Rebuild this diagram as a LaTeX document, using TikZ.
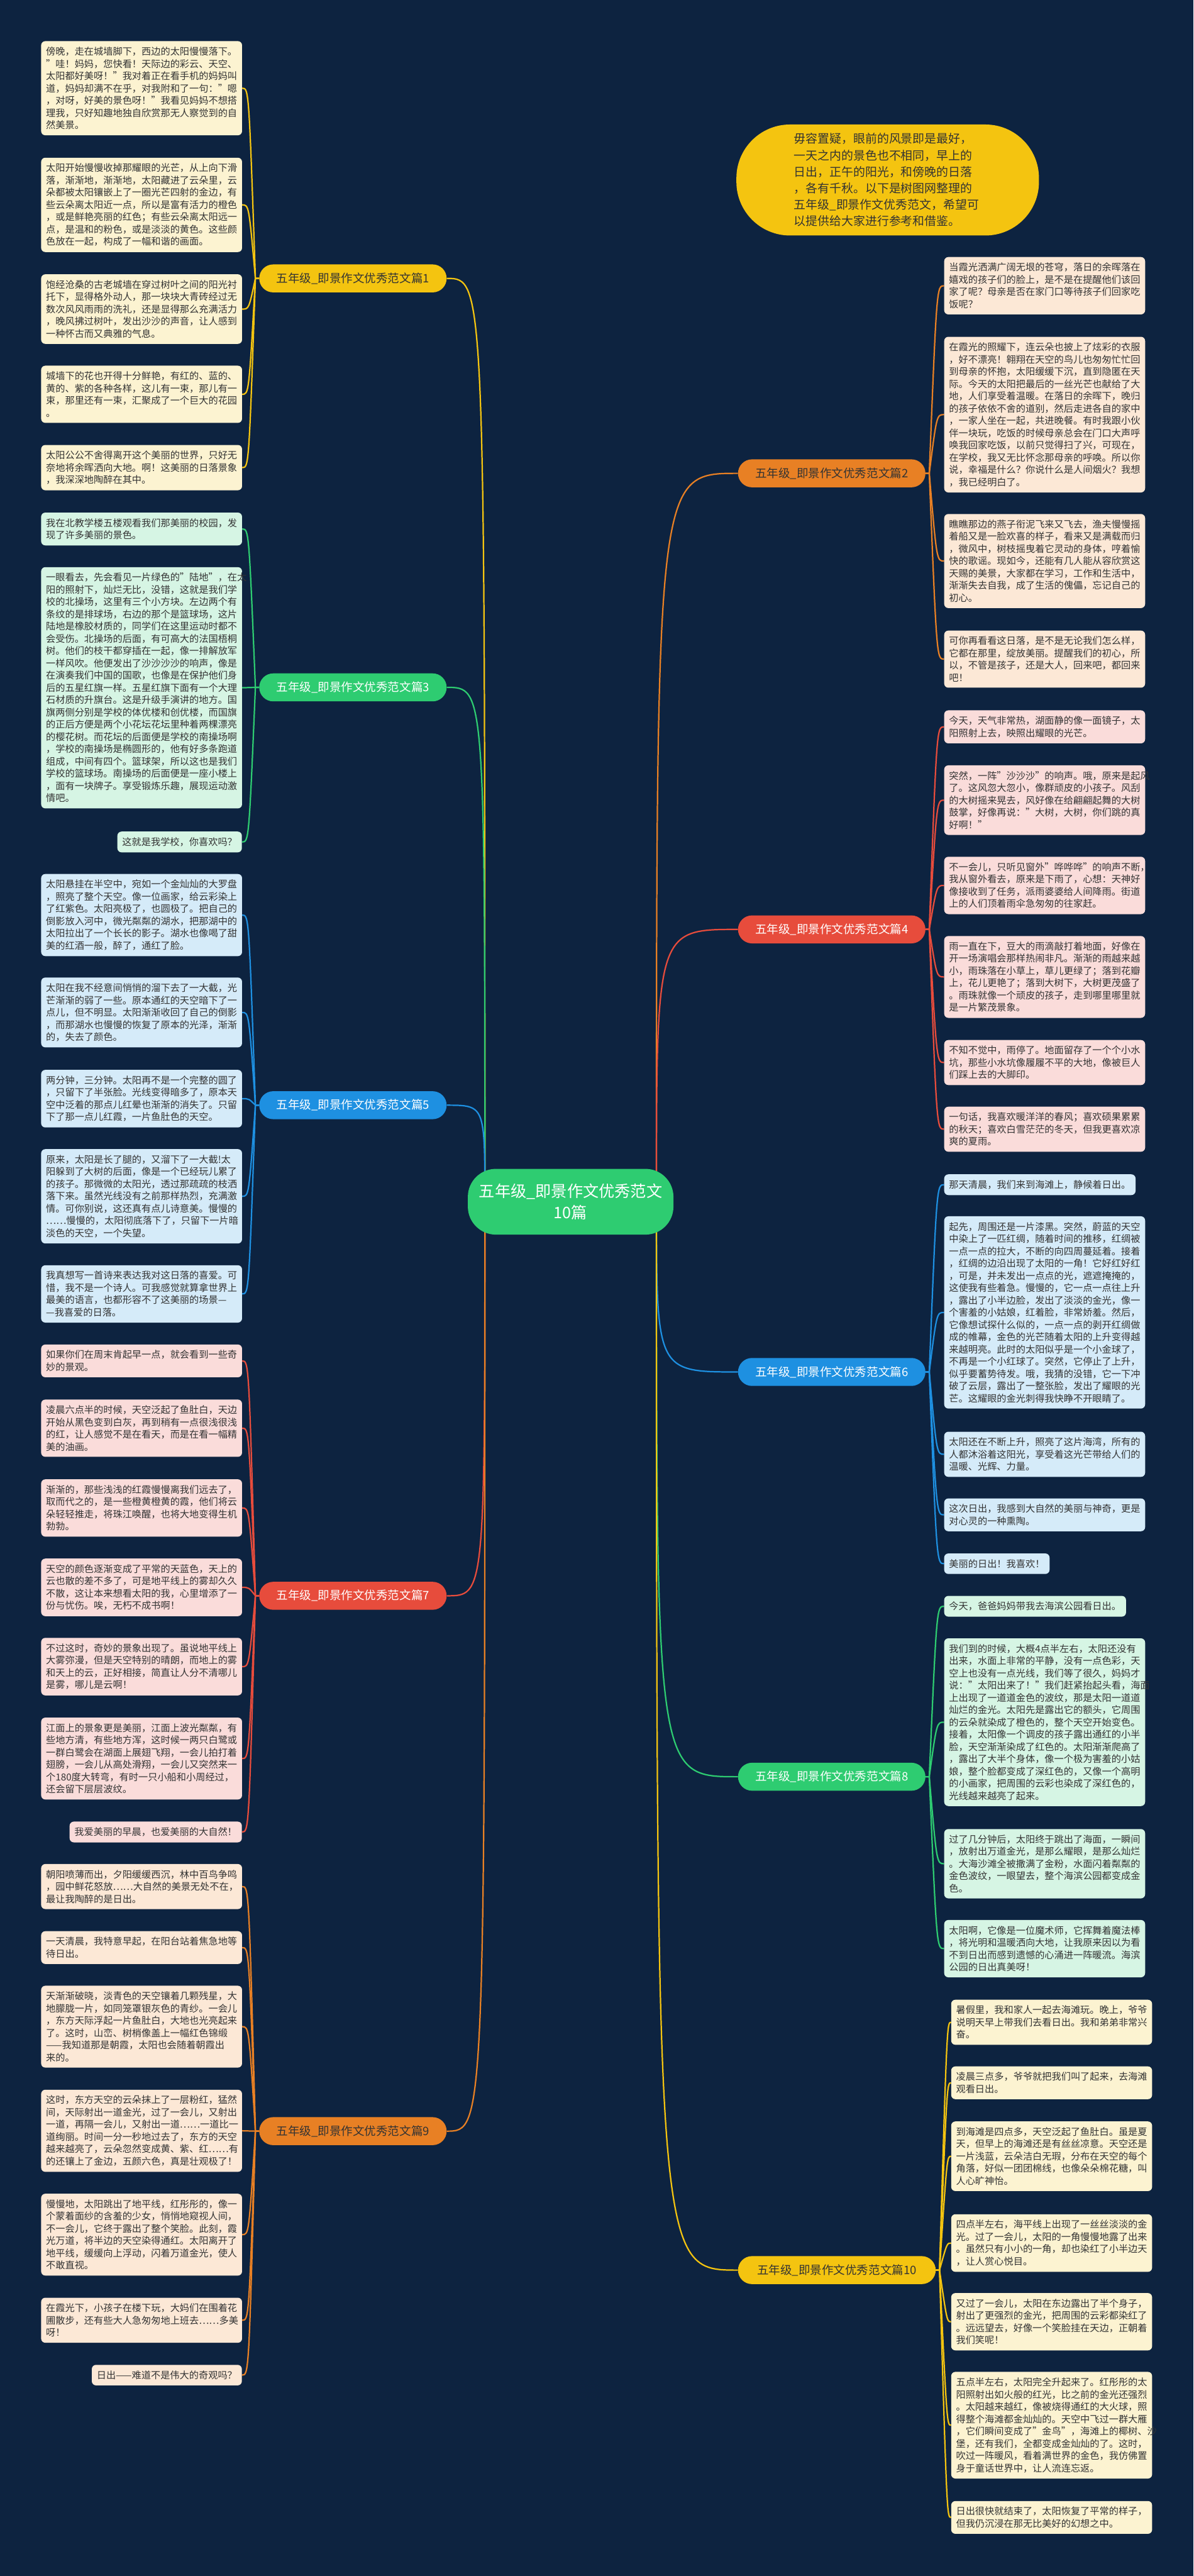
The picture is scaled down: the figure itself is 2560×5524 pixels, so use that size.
\documentclass[tikz,border=0pt]{standalone}
\usepackage{fontspec}
\setmainfont{Noto Sans CJK SC}
\pgfdeclarelayer{back}
\pgfdeclarelayer{links}
\pgfsetlayers{back,links,main}

\definecolor{navy}{RGB}{13,35,64}
\definecolor{ylw}{RGB}{244,196,16}
\definecolor{org}{RGB}{232,128,36}
\definecolor{grn}{RGB}{46,204,113}
\definecolor{rd}{RGB}{231,76,60}
\definecolor{blu}{RGB}{30,144,225}
\definecolor{ylwbox}{RGB}{252,243,209}
\definecolor{orgbox}{RGB}{252,232,214}
\definecolor{grnbox}{RGB}{214,245,228}
\definecolor{rdbox}{RGB}{250,220,218}
\definecolor{blubox}{RGB}{213,235,249}
\definecolor{ink}{RGB}{51,51,51}

\tikzset{
  essay/.style={rounded corners=9pt, inner xsep=10.5pt, inner ysep=12.5pt, text width=410pt, align=left, anchor=north west, text=ink, font=\fontsize{20.5}{26.3}\selectfont},
  note/.style={rounded corners=9pt, inner xsep=10.5pt, inner ysep=12.5pt, text=ink, font=\fontsize{20.5}{26.3}\selectfont},
  branch/.style={rounded corners=30pt, minimum height=60pt, minimum width=402pt, inner sep=0pt, font=\fontsize{25}{30}\selectfont},
  hub/.style={fill=grn, text=white, rounded corners=60pt, minimum width=441pt, minimum height=141pt, align=center, font=\fontsize{34}{46}\selectfont},
  link/.style={line width=3pt},
}

\begin{document}
\begin{tikzpicture}[x=1pt, y=-1pt]
    \useasboundingbox (0,0) rectangle (2560,5524);
    \begin{pgfonlayer}{back}
    \fill[navy] (0,0) rectangle (2560,5524);
    \end{pgfonlayer}

    % Center and intro
    \node[hub] (c) at (1224,2577) {五年级\_即景作文优秀范文\\10篇};
    \node[fill=ylw, text=ink, rounded corners=115pt, minimum width=649pt, minimum height=238pt, text width=402pt, align=left, font=\fontsize{25.5}{35.3}\selectfont] (intro) at (1904,386) {毋容置疑，眼前的风景即是最好，\\
一天之内的景色也不相同，早上的\\
日出，正午的阳光，和傍晚的日落\\
，各有千秋。以下是树图网整理的\\
五年级\_即景作文优秀范文，希望可\\
以提供给大家进行参考和借鉴。};

    % Branch labels
    \node[branch, fill=ylw, text=ink] (l1) at (757,597) {五年级\_即景作文优秀范文篇1};
    \node[branch, fill=org, text=ink] (l2) at (1784,1015) {五年级\_即景作文优秀范文篇2};
    \node[branch, fill=grn, text=white] (l3) at (757,1474) {五年级\_即景作文优秀范文篇3};
    \node[branch, fill=rd, text=white] (l4) at (1784,1993) {五年级\_即景作文优秀范文篇4};
    \node[branch, fill=blu, text=white] (l5) at (757,2370) {五年级\_即景作文优秀范文篇5};
    \node[branch, fill=blu, text=white] (l6) at (1784,2942) {五年级\_即景作文优秀范文篇6};
    \node[branch, fill=rd, text=white] (l7) at (757,3422) {五年级\_即景作文优秀范文篇7};
    \node[branch, fill=grn, text=white] (l8) at (1784,3810) {五年级\_即景作文优秀范文篇8};
    \node[branch, fill=org, text=ink] (l9) at (757,4570) {五年级\_即景作文优秀范文篇9};
    \node[branch, fill=ylw, text=ink, minimum width=424pt] (l10) at (1795,4868) {五年级\_即景作文优秀范文篇10};

    % Essay 1
    \node[essay, fill=ylwbox] (b1a) at (88,88) {傍晚，走在城墙脚下，西边的太阳慢慢落下。\\
"哇！妈妈，您快看！天际边的彩云、天空、\\
太阳都好美呀！"我对着正在看手机的妈妈叫\\
道，妈妈却满不在乎，对我附和了一句："嗯\\
，对呀，好美的景色呀！"我看见妈妈不想搭\\
理我，只好知趣地独自欣赏那无人察觉到的自\\
然美景。};
    \node[essay, fill=ylwbox] (b1b) at (88,338) {太阳开始慢慢收掉那耀眼的光芒，从上向下滑\\
落，渐渐地，渐渐地，太阳藏进了云朵里，云\\
朵都被太阳镶嵌上了一圈光芒四射的金边，有\\
些云朵离太阳近一点，所以是富有活力的橙色\\
，或是鲜艳亮丽的红色；有些云朵离太阳远一\\
点，是温和的粉色，或是淡淡的黄色。这些颜\\
色放在一起，构成了一幅和谐的画面。};
    \node[essay, fill=ylwbox] (b1c) at (88,588) {饱经沧桑的古老城墙在穿过树叶之间的阳光衬\\
托下，显得格外动人，那一块块大青砖经过无\\
数次风风雨雨的洗礼，还是显得那么充满活力\\
，晚风拂过树叶，发出沙沙的声音，让人感到\\
一种怀古而又典雅的气息。};
    \node[essay, fill=ylwbox] (b1d) at (88,784) {城墙下的花也开得十分鲜艳，有红的、蓝的、\\
黄的、紫的各种各样，这儿有一束，那儿有一\\
束，那里还有一束，汇聚成了一个巨大的花园\\
。};
    \node[essay, fill=ylwbox] (b1e) at (88,954) {太阳公公不舍得离开这个美丽的世界，只好无\\
奈地将余晖洒向大地。啊！这美丽的日落景象\\
，我深深地陶醉在其中。};

    % Essay 3
    \node[essay, fill=grnbox] (b3a) at (88,1099) {我在北教学楼五楼观看我们那美丽的校园，发\\
现了许多美丽的景色。};
    \node[essay, fill=grnbox] (b3b) at (88,1216) {一眼看去，先会看见一片绿色的"陆地"，在太\\
阳的照射下，灿烂无比，没错，这就是我们学\\
校的北操场，这里有三个小方块。左边两个有\\
条纹的是排球场，右边的那个是篮球场，这片\\
陆地是橡胶材质的，同学们在这里运动时都不\\
会受伤。北操场的后面，有可高大的法国梧桐\\
树。他们的枝干都穿插在一起，像一排解放军\\
一样风吹。他便发出了沙沙沙沙的响声，像是\\
在演奏我们中国的国歌，也像是在保护他们身\\
后的五星红旗一样。五星红旗下面有一个大理\\
石材质的升旗台。这是升级手演讲的地方。国\\
旗两侧分别是学校的体优楼和创优楼，而国旗\\
的正后方便是两个小花坛花坛里种着两棵漂亮\\
的樱花树。而花坛的后面便是学校的南操场啊\\
，学校的南操场是椭圆形的，他有好多条跑道\\
组成，中间有四个。篮球架，所以这也是我们\\
学校的篮球场。南操场的后面便是一座小楼上\\
，面有一块牌子。享受锻炼乐趣，展现运动激\\
情吧。};
    \node[note, fill=grnbox, anchor=north east] (b3c) at (519,1783) {这就是我学校，你喜欢吗？};

    % Essay 5
    \node[essay, fill=blubox] (b5a) at (88,1874) {太阳悬挂在半空中，宛如一个金灿灿的大罗盘\\
，照亮了整个天空。像一位画家，给云彩染上\\
了红紫色。太阳亮极了，也圆极了。把自己的\\
倒影放入河中，微光粼粼的湖水，把那湖中的\\
太阳拉出了一个长长的影子。湖水也像喝了甜\\
美的红酒一般，醉了，通红了脸。};
    \node[essay, fill=blubox] (b5b) at (88,2096) {太阳在我不经意间悄悄的溜下去了一大截，光\\
芒渐渐的弱了一些。原本通红的天空暗下了一\\
点儿，但不明显。太阳渐渐收回了自己的倒影\\
，而那湖水也慢慢的恢复了原本的光泽，渐渐\\
的，失去了颜色。};
    \node[essay, fill=blubox] (b5c) at (88,2294) {两分钟，三分钟。太阳再不是一个完整的圆了\\
，只留下了半张脸。光线变得暗多了，原本天\\
空中泛着的那点儿红晕也渐渐的消失了。只留\\
下了那一点儿红霞，一片鱼肚色的天空。};
    \node[essay, fill=blubox] (b5d) at (88,2464) {原来，太阳是长了腿的，又溜下了一大截!太\\
阳躲到了大树的后面，像是一个已经玩儿累了\\
的孩子。那微微的太阳光，透过那疏疏的枝洒\\
落下来。虽然光线没有之前那样热烈，充满激\\
情。可你别说，这还真有点儿诗意美。慢慢的\\
……慢慢的，太阳彻底落下了，只留下一片暗\\
淡色的天空，一个失望。};
    \node[essay, fill=blubox] (b5e) at (88,2713) {我真想写一首诗来表达我对这日落的喜爱。可\\
惜，我不是一个诗人。可我感觉就算拿世界上\\
最美的语言，也都形容不了这美丽的场景—\\
—我喜爱的日落。};

    % Essay 7
    \node[essay, fill=rdbox] (b7a) at (88,2883) {如果你们在周末肯起早一点，就会看到一些奇\\
妙的景观。};
    \node[essay, fill=rdbox] (b7b) at (88,3001) {凌晨六点半的时候，天空泛起了鱼肚白，天边\\
开始从黑色变到白灰，再到稍有一点很浅很浅\\
的红，让人感觉不是在看天，而是在看一幅精\\
美的油画。};
    \node[essay, fill=rdbox] (b7c) at (88,3172) {渐渐的，那些浅浅的红霞慢慢离我们远去了，\\
取而代之的，是一些橙黄橙黄的霞，他们将云\\
朵轻轻推走，将珠江唤醒，也将大地变得生机\\
勃勃。};
    \node[essay, fill=rdbox] (b7d) at (88,3342) {天空的颜色逐渐变成了平常的天蓝色，天上的\\
云也散的差不多了，可是地平线上的雾却久久\\
不散，这让本来想看太阳的我，心里增添了一\\
份与忧伤。唉，无朽不成书啊！};
    \node[essay, fill=rdbox] (b7e) at (88,3512) {不过这时，奇妙的景象出现了。虽说地平线上\\
大雾弥漫，但是天空特别的晴朗，而地上的雾\\
和天上的云，正好相接，简直让人分不清哪儿\\
是雾，哪儿是云啊！};
    \node[essay, fill=rdbox] (b7f) at (88,3683) {江面上的景象更是美丽，江面上波光粼粼，有\\
些地方清，有些地方浑，这时候一两只白鹭或\\
一群白鹭会在湖面上展翅飞翔，一会儿拍打着\\
翅膀，一会儿从高处滑翔，一会儿又突然来一\\
个180度大转弯，有时一只小船和小周经过，\\
还会留下层层波纹。};
    \node[note, fill=rdbox, anchor=north east] (b7g) at (519,3906) {我爱美丽的早晨，也爱美丽的大自然！};

    % Essay 9
    \node[essay, fill=orgbox] (b9a) at (88,3997) {朝阳喷薄而出，夕阳缓缓西沉，林中百鸟争鸣\\
，园中鲜花怒放……大自然的美景无处不在，\\
最让我陶醉的是日出。};
    \node[essay, fill=orgbox] (b9b) at (88,4141) {一天清晨，我特意早起，在阳台站着焦急地等\\
待日出。};
    \node[essay, fill=orgbox] (b9c) at (88,4258) {天渐渐破晓，淡青色的天空镶着几颗残星，大\\
地朦胧一片，如同笼罩银灰色的青纱。一会儿\\
，东方天际浮起一片鱼肚白，大地也光亮起来\\
了。这时，山峦、树梢像盖上一幅红色锦缎\\
——我知道那是朝霞，太阳也会随着朝霞出\\
来的。};
    \node[essay, fill=orgbox] (b9d) at (88,4481) {这时，东方天空的云朵抹上了一层粉红，猛然\\
间，天际射出一道金光，过了一会儿，又射出\\
一道，再隔一会儿，又射出一道……一道比一\\
道绚丽。时间一分一秒地过去了，东方的天空\\
越来越亮了，云朵忽然变成黄、紫、红……有\\
的还镶上了金边，五颜六色，真是壮观极了！};
    \node[essay, fill=orgbox] (b9e) at (88,4704) {慢慢地，太阳跳出了地平线，红彤彤的，像一\\
个蒙着面纱的含羞的少女，悄悄地窥视人间，\\
不一会儿，它终于露出了整个笑脸。此刻，霞\\
光万道，将半边的天空染得通红。太阳离开了\\
地平线，缓缓向上浮动，闪着万道金光，使人\\
不敢直视。};
    \node[essay, fill=orgbox] (b9f) at (88,4927) {在霞光下，小孩子在楼下玩，大妈们在围着花\\
圃散步，还有些大人急匆匆地上班去……多美\\
呀！};
    \node[note, fill=orgbox, anchor=north east] (b9g) at (519,5071) {日出——难道不是伟大的奇观吗？};

    % Essay 2
    \node[essay, fill=orgbox] (r2a) at (2025,551) {当霞光洒满广阔无垠的苍穹，落日的余晖落在\\
嬉戏的孩子们的脸上，是不是在提醒他们该回\\
家了呢？母亲是否在家门口等待孩子们回家吃\\
饭呢？};
    \node[essay, fill=orgbox] (r2b) at (2025,722) {在霞光的照耀下，连云朵也披上了炫彩的衣服\\
，好不漂亮！翱翔在天空的鸟儿也匆匆忙忙回\\
到母亲的怀抱，太阳缓缓下沉，直到隐匿在天\\
际。今天的太阳把最后的一丝光芒也献给了大\\
地，人们享受着温暖。在落日的余晖下，晚归\\
的孩子依依不舍的道别，然后走进各自的家中\\
，一家人坐在一起，共进晚餐。有时我跟小伙\\
伴一块玩，吃饭的时候母亲总会在门口大声呼\\
唤我回家吃饭，以前只觉得扫了兴，可现在，\\
在学校，我又无比怀念那母亲的呼唤。所以你\\
说，幸福是什么？你说什么是人间烟火？我想\\
，我已经明白了。};
    \node[essay, fill=orgbox] (r2c) at (2025,1102) {瞧瞧那边的燕子衔泥飞来又飞去，渔夫慢慢摇\\
着船又是一脸欢喜的样子，看来又是满载而归\\
，微风中，树枝摇曳着它灵动的身体，哼着愉\\
快的歌谣。现如今，还能有几人能从容欣赏这\\
天赐的美景，大家都在学习，工作和生活中，\\
渐渐失去自我，成了生活的傀儡，忘记自己的\\
初心。};
    \node[essay, fill=orgbox] (r2d) at (2025,1352) {可你再看看这日落，是不是无论我们怎么样，\\
它都在那里，绽放美丽。提醒我们的初心，所\\
以，不管是孩子，还是大人，回来吧，都回来\\
吧！};

    % Essay 4
    \node[essay, fill=rdbox] (r4a) at (2025,1523) {今天，天气非常热，湖面静的像一面镜子，太\\
阳照射上去，映照出耀眼的光芒。};
    \node[essay, fill=rdbox] (r4b) at (2025,1641) {突然，一阵"沙沙沙"的响声。哦，原来是起风\\
了。这风忽大忽小，像群顽皮的小孩子。风刮\\
的大树摇来晃去，风好像在给翩翩起舞的大树\\
鼓掌，好像再说："大树，大树，你们跳的真\\
好啊！"};
    \node[essay, fill=rdbox] (r4c) at (2025,1837) {不一会儿，只听见窗外"哗哗哗"的响声不断，\\
我从窗外看去，原来是下雨了，心想：天神好\\
像接收到了任务，派雨婆婆给人间降雨。街道\\
上的人们顶着雨伞急匆匆的往家赶。};
    \node[essay, fill=rdbox] (r4d) at (2025,2007) {雨一直在下，豆大的雨滴敲打着地面，好像在\\
开一场演唱会那样热闹非凡。渐渐的雨越来越\\
小，雨珠落在小草上，草儿更绿了；落到花瓣\\
上，花儿更艳了；落到大树下，大树更茂盛了\\
。雨珠就像一个顽皮的孩子，走到哪里哪里就\\
是一片繁茂景象。};
    \node[essay, fill=rdbox] (r4e) at (2025,2230) {不知不觉中，雨停了。地面留存了一个个小水\\
坑，那些小水坑像履履不平的大地，像被巨人\\
们踩上去的大脚印。};
    \node[essay, fill=rdbox] (r4f) at (2025,2373) {一句话，我喜欢暖洋洋的春风；喜欢硕果累累\\
的秋天；喜欢白雪茫茫的冬天，但我更喜欢凉\\
爽的夏雨。};

    % Essay 6
    \node[note, fill=blubox, anchor=north west] (r6a) at (2025,2518) {那天清晨，我们来到海滩上，静候着日出。};
    \node[essay, fill=blubox] (r6b) at (2025,2608) {起先，周围还是一片漆黑。突然，蔚蓝的天空\\
中染上了一匹红绸，随着时间的推移，红绸被\\
一点一点的拉大，不断的向四周蔓延着。接着\\
，红绸的边沿出现了太阳的一角！它好红好红\\
，可是，并未发出一点点的光，遮遮掩掩的，\\
这使我有些着急。慢慢的，它一点一点往上升\\
，露出了小半边脸，发出了淡淡的金光，像一\\
个害羞的小姑娘，红着脸，非常娇羞。然后，\\
它像想试探什么似的，一点一点的剥开红绸做\\
成的帷幕，金色的光芒随着太阳的上升变得越\\
来越明亮。此时的太阳似乎是一个小金球了，\\
不再是一个小红球了。突然，它停止了上升，\\
似乎要蓄势待发。哦，我猜的没错，它一下冲\\
破了云层，露出了一整张脸，发出了耀眼的光\\
芒。这耀眼的金光刺得我快睁不开眼睛了。};
    \node[essay, fill=blubox] (r6c) at (2025,3070) {太阳还在不断上升，照亮了这片海湾，所有的\\
人都沐浴着这阳光，享受着这光芒带给人们的\\
温暖、光辉、力量。};
    \node[essay, fill=blubox] (r6d) at (2025,3213) {这次日出，我感到大自然的美丽与神奇，更是\\
对心灵的一种熏陶。};
    \node[note, fill=blubox, anchor=north west] (r6e) at (2025,3331) {美丽的日出！我喜欢！};

    % Essay 8
    \node[note, fill=grnbox, anchor=north west] (r8a) at (2025,3422) {今天，爸爸妈妈带我去海滨公园看日出。};
    \node[essay, fill=grnbox] (r8b) at (2025,3513) {我们到的时候，大概4点半左右，太阳还没有\\
出来，水面上非常的平静，没有一点色彩，天\\
空上也没有一点光线，我们等了很久，妈妈才\\
说："太阳出来了！"我们赶紧抬起头看，海面\\
上出现了一道道金色的波纹，那是太阳一道道\\
灿烂的金光。太阳先是露出它的额头，它周围\\
的云朵就染成了橙色的，整个天空开始变色。\\
接着，太阳像一个调皮的孩子露出通红的小半\\
脸，天空渐渐染成了红色的。太阳渐渐爬高了\\
，露出了大半个身体，像一个极为害羞的小姑\\
娘，整个脸都变成了深红色的，又像一个高明\\
的小画家，把周围的云彩也染成了深红色的，\\
光线越来越亮了起来。};
    \node[essay, fill=grnbox] (r8c) at (2025,3922) {过了几分钟后，太阳终于跳出了海面，一瞬间\\
，放射出万道金光，是那么耀眼，是那么灿烂\\
。大海沙滩全被撒满了金粉，水面闪着粼粼的\\
金色波纹，一眼望去，整个海滨公园都变成金\\
色。};
    \node[essay, fill=grnbox] (r8d) at (2025,4117) {太阳啊，它像是一位魔术师，它挥舞着魔法棒\\
，将光明和温暖洒向大地，让我原来因以为看\\
不到日出而感到遗憾的心涌进一阵暖流。海滨\\
公园的日出真美呀！};

    % Essay 10
    \node[essay, fill=ylwbox] (r10a) at (2040,4288) {暑假里，我和家人一起去海滩玩。晚上，爷爷\\
说明天早上带我们去看日出。我和弟弟非常兴\\
奋。};
    \node[essay, fill=ylwbox] (r10b) at (2040,4431) {凌晨三点多，爷爷就把我们叫了起来，去海滩\\
观看日出。};
    \node[essay, fill=ylwbox] (r10c) at (2040,4549) {到海滩是四点多，天空泛起了鱼肚白。虽是夏\\
天，但早上的海滩还是有丝丝凉意。天空还是\\
一片浅蓝，云朵洁白无瑕，分布在天空的每个\\
角落，好似一团团棉线，也像朵朵棉花糖，叫\\
人心旷神怡。};
    \node[essay, fill=ylwbox] (r10d) at (2040,4748) {四点半左右，海平线上出现了一丝丝淡淡的金\\
光。过了一会儿，太阳的一角慢慢地露了出来\\
。虽然只有小小的一角，却也染红了小半边天\\
，让人赏心悦目。};
    \node[essay, fill=ylwbox] (r10e) at (2040,4917) {又过了一会儿，太阳在东边露出了半个身子，\\
射出了更强烈的金光，把周围的云彩都染红了\\
。远远望去，好像一个笑脸挂在天边，正朝着\\
我们笑呢！};
    \node[essay, fill=ylwbox] (r10f) at (2040,5086) {五点半左右，太阳完全升起来了。红彤彤的太\\
阳照射出如火般的红光，比之前的金光还强烈\\
。太阳越来越红，像被烧得通红的大火球，照\\
得整个海滩都金灿灿的。天空中飞过一群大雁\\
，它们瞬间变成了"金鸟"，海滩上的椰树、沙\\
堡，还有我们，全都变成金灿灿的了。这时，\\
吹过一阵暖风，看着满世界的金色，我仿佛置\\
身于童话世界中，让人流连忘返。};
    \node[essay, fill=ylwbox] (r10g) at (2040,5363) {日出很快就结束了，太阳恢复了平常的样子，\\
但我仍沉浸在那无比美好的幻想之中。};

    % Connectors
    \begin{pgfonlayer}{links}
    \coordinate (cl) at (1040,2577);
    \coordinate (cr) at (1408,2577);
    \foreach \l/\col in {l1/ylw, l3/grn, l5/blu, l7/rd, l9/org}
        \draw[link, color=\col] (cl) .. controls (cl |- \l.east) .. (\l.east);
    \foreach \l/\col in {l2/org, l4/rd, l6/blu, l8/grn, l10/ylw}
        \draw[link, color=\col] (cr) .. controls (cr |- \l.west) .. (\l.west);

    % left branches
    \foreach \l/\col/\boxes in {l1/ylw/{b1a,b1b,b1c,b1d,b1e}, l3/grn/{b3a,b3b,b3c}, l5/blu/{b5a,b5b,b5c,b5d,b5e}, l7/rd/{b7a,b7b,b7c,b7d,b7e,b7f,b7g}, l9/org/{b9a,b9b,b9c,b9d,b9e,b9f,b9g}} {
        \coordinate (s) at ([xshift=-22pt]\l.west);
        \foreach \b in \boxes
            \draw[link, color=\col] (\l.west) -- ++(-8,0) .. controls (s |- \b.east) .. (\b.east);
    }
    % right branches
    \foreach \l/\col/\boxes in {l2/org/{r2a,r2b,r2c,r2d}, l4/rd/{r4a,r4b,r4c,r4d,r4e,r4f}, l6/blu/{r6a,r6b,r6c,r6d,r6e}, l8/grn/{r8a,r8b,r8c,r8d}, l10/ylw/{r10a,r10b,r10c,r10d,r10e,r10f,r10g}} {
        \coordinate (s) at ([xshift=24pt]\l.east);
        \foreach \b in \boxes
            \draw[link, color=\col] (\l.east) -- ++(8,0) .. controls (s |- \b.west) .. (\b.west);
    }
    \end{pgfonlayer}
\end{tikzpicture}
\end{document}
